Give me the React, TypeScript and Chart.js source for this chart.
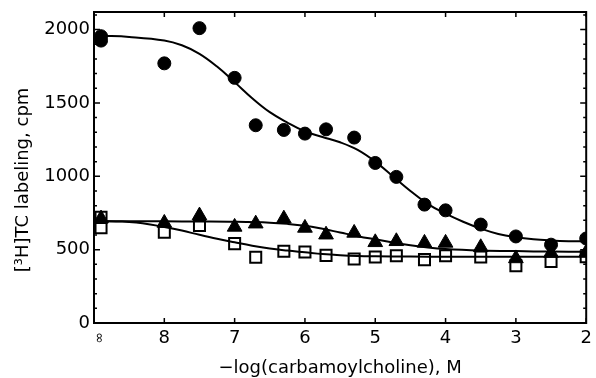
import React, { useEffect, useRef } from 'react';
import { Chart, registerables } from 'chart.js';

Chart.register(...registerables);

const FONT = '"DejaVu Sans", "Liberation Sans", Arial, sans-serif';

// x axis: -log[carbamoylcholine]; "infinity" (no agonist) is placed at 8.9
const INF = 8.9;
const X_MIN = 2;
const X_MAX = 9;
const Y_MIN = 0;
const Y_MAX = 2120;
const xTickValues = [8, 7, 6, 5, 4, 3, 2];
const xTickLabels = ['8', '7', '6', '5', '4', '3', '2'];
const yTickValues = [0, 500, 1000, 1500, 2000];
const yTickLabels = ['0', '500', '1000', '1500', '2000'];
const yMinorTicks = [100, 200, 300, 400, 600, 700, 800, 900, 1100, 1200, 1300, 1400, 1600, 1700, 1800, 1900, 2100];

const xTitle = '\u2212log(carbamoylcholine), M';
const yTitle = '[\u00B3H]TC labeling, cpm';

// filled circles
const circleX = [INF, INF, 8, 7.5, 7, 6.7, 6.3, 6, 5.7, 5.3, 5, 4.7, 4.3, 4, 3.5, 3, 2.5, 2];
const circleY = [1955, 1925, 1770, 2010, 1671, 1348, 1316, 1291, 1320, 1264, 1091, 996, 807, 768, 671, 590, 534, 576];
// filled triangles
const triangleX = [INF, 8, 7.5, 7, 6.7, 6.3, 6, 5.7, 5.3, 5, 4.7, 4.3, 4, 3.5, 3, 2.5, 2];
const triangleY = [712, 682, 732, 655, 677, 711, 648, 602, 614, 550, 557, 546, 546, 516, 440, 477, 480];
// open squares
const squareX = [INF, INF, 8, 7.5, 7, 6.7, 6.3, 6, 5.7, 5.3, 5, 4.7, 4.3, 4, 3.5, 3, 2.5, 2];
const squareY = [720, 650, 618, 664, 541, 448, 489, 484, 461, 437, 450, 459, 432, 459, 450, 391, 420, 452];

// fitted curves
const circleFitX = [INF, 8.5, 8, 7.75, 7.5, 7.25, 7, 6.75, 6.5, 6.25, 6, 5.75, 5.5, 5.25, 5, 4.75, 4.5, 4.25, 4, 3.75, 3.5, 3.25, 3, 2.75, 2.5, 2.25, 2];
const circleFitY = [1958, 1950, 1926, 1893, 1835, 1748, 1642, 1532, 1437, 1366, 1306, 1268, 1232, 1180, 1100, 1000, 900, 810, 745, 690, 643, 607, 585, 571, 563, 558, 556];
const triangleFitX = [INF, 8, 7.5, 7, 6.5, 6.25, 6, 5.75, 5.5, 5.25, 5, 4.75, 4.5, 4.25, 4, 3.5, 3, 2.5, 2];
const triangleFitY = [693, 693, 692, 690, 684, 676, 663, 642, 617, 592, 570, 549, 530, 515, 505, 495, 490, 487, 486];
const squareFitX = [INF, 8.6, 8.4, 8.2, 8, 7.75, 7.5, 7.25, 7, 6.75, 6.5, 6.25, 6, 5.75, 5.5, 5.25, 5, 4.5, 4, 3, 2];
const squareFitY = [695, 692, 685, 672, 655, 630, 601, 574, 550, 527, 508, 494, 482, 470, 462, 457, 455, 453, 452, 451, 451];

const pts = (xs: number[], ys: number[]) => xs.map((x, i) => ({ x, y: ys[i] }));

const framePlugin = {
  id: 'frame',
  afterDraw(chart: any) {
    const { ctx, chartArea } = chart;
    const xs = chart.scales.x;
    const ys = chart.scales.y;
    const { left, right, top, bottom } = chartArea;
    ctx.save();
    ctx.strokeStyle = '#000';
    ctx.lineWidth = 2;
    ctx.strokeRect(left, top, right - left, bottom - top);
    ctx.lineWidth = 1.5;
    ctx.beginPath();
    xTickValues.forEach((v) => {
      const px = xs.getPixelForValue(v);
      ctx.moveTo(px, bottom);
      ctx.lineTo(px, bottom - 5);
      ctx.moveTo(px, top);
      ctx.lineTo(px, top + 5);
    });
    yTickValues.forEach((v) => {
      const py = ys.getPixelForValue(v);
      ctx.moveTo(left, py);
      ctx.lineTo(left + 6, py);
      ctx.moveTo(right, py);
      ctx.lineTo(right - 6, py);
    });
    yMinorTicks.forEach((v) => {
      const py = ys.getPixelForValue(v);
      ctx.moveTo(left, py);
      ctx.lineTo(left + 3, py);
      ctx.moveTo(right, py);
      ctx.lineTo(right - 3, py);
    });
    ctx.stroke();

    // infinity label (rotated)
    ctx.fillStyle = '#000';
    ctx.save();
    ctx.translate(xs.getPixelForValue(INF) - 2, bottom + 15);
    ctx.rotate(Math.PI / 2);
    ctx.font = `14px ${FONT}`;
    ctx.textAlign = 'center';
    ctx.textBaseline = 'middle';
    ctx.fillText('\u221E', 0, 0);
    ctx.restore();

    // y title
    ctx.save();
    ctx.translate(23, 180);
    ctx.rotate(-Math.PI / 2);
    ctx.font = `18px ${FONT}`;
    ctx.textAlign = 'center';
    ctx.textBaseline = 'middle';
    ctx.fillText(yTitle, 0, 0);
    ctx.restore();
    ctx.restore();
  },
};

export default function App() {
  const ref = useRef<HTMLCanvasElement | null>(null);
  useEffect(() => {
    if (!ref.current) return;
    const curve = (xs: number[], ys: number[]) => ({
      type: 'line',
      data: pts(xs, ys),
      borderColor: '#000',
      borderWidth: 2,
      pointRadius: 0,
      fill: false,
      tension: 0.4,
      order: 1,
    });
    const chart = new Chart(ref.current, {
      type: 'scatter',
      data: {
        datasets: [
          {
            type: 'scatter',
            data: pts(circleX, circleY),
            pointStyle: 'circle',
            pointRadius: 6.5,
            pointBorderWidth: 1,
            backgroundColor: '#000',
            borderColor: '#000',
            order: 0,
          },
          {
            type: 'scatter',
            data: pts(triangleX, triangleY),
            pointStyle: 'triangle',
            pointRadius: 8.5,
            pointBorderWidth: 1,
            backgroundColor: '#000',
            borderColor: '#000',
            order: 0,
          },
          {
            type: 'scatter',
            data: pts(squareX, squareY),
            pointStyle: 'rect',
            pointRadius: 7.8,
            pointBorderWidth: 2,
            backgroundColor: 'rgba(255,255,255,0)',
            borderColor: '#000',
            order: 0,
          },
          curve(circleFitX, circleFitY),
          curve(triangleFitX, triangleFitY),
          curve(squareFitX, squareFitY),
        ],
      } as any,
      options: {
        animation: false,
        responsive: false,
        devicePixelRatio: 1,
        layout: { padding: { top: 12, right: 6, left: 0, bottom: 0 } },
        plugins: { legend: { display: false }, tooltip: { enabled: false } },
        scales: {
          x: {
            type: 'linear',
            min: X_MIN,
            max: X_MAX,
            reverse: true,
            afterBuildTicks: (ax: any) => {
              ax.ticks = xTickValues.map((v) => ({ value: v }));
            },
            afterFit: (ax: any) => {
              ax.height = 55;
              ax.paddingLeft = 0;
              ax.paddingRight = 0;
            },
            grid: { display: false, drawTicks: false },
            border: { display: false },
            ticks: {
              autoSkip: false,
              maxRotation: 0,
              padding: 5,
              color: '#000',
              font: { family: FONT, size: 18 },
              callback: (_v: any, i: number) => xTickLabels[i],
            },
            title: {
              display: true,
              text: xTitle,
              color: '#000',
              font: { family: FONT, size: 18, lineHeight: 1 },
              padding: { top: 0, bottom: 1 },
            },
          },
          y: {
            type: 'linear',
            min: Y_MIN,
            max: Y_MAX,
            afterBuildTicks: (ax: any) => {
              ax.ticks = yTickValues.map((v) => ({ value: v }));
            },
            afterFit: (ax: any) => {
              ax.width = 94;
              ax.paddingTop = 0;
              ax.paddingBottom = 0;
            },
            grid: { display: false, drawTicks: false },
            border: { display: false },
            ticks: {
              padding: 4,
              color: '#000',
              font: { family: FONT, size: 18 },
              callback: (_v: any, i: number) => yTickLabels[i],
            },
          },
        },
      } as any,
      plugins: [framePlugin],
    });
    return () => chart.destroy();
  }, []);
  return (
    <div style={{ position: 'absolute', left: 0, top: 0, width: 596, height: 378, background: '#fff' }}>
      <canvas ref={ref} width={596} height={378} style={{ width: 596, height: 378, display: 'block' }} />
    </div>
  );
}
